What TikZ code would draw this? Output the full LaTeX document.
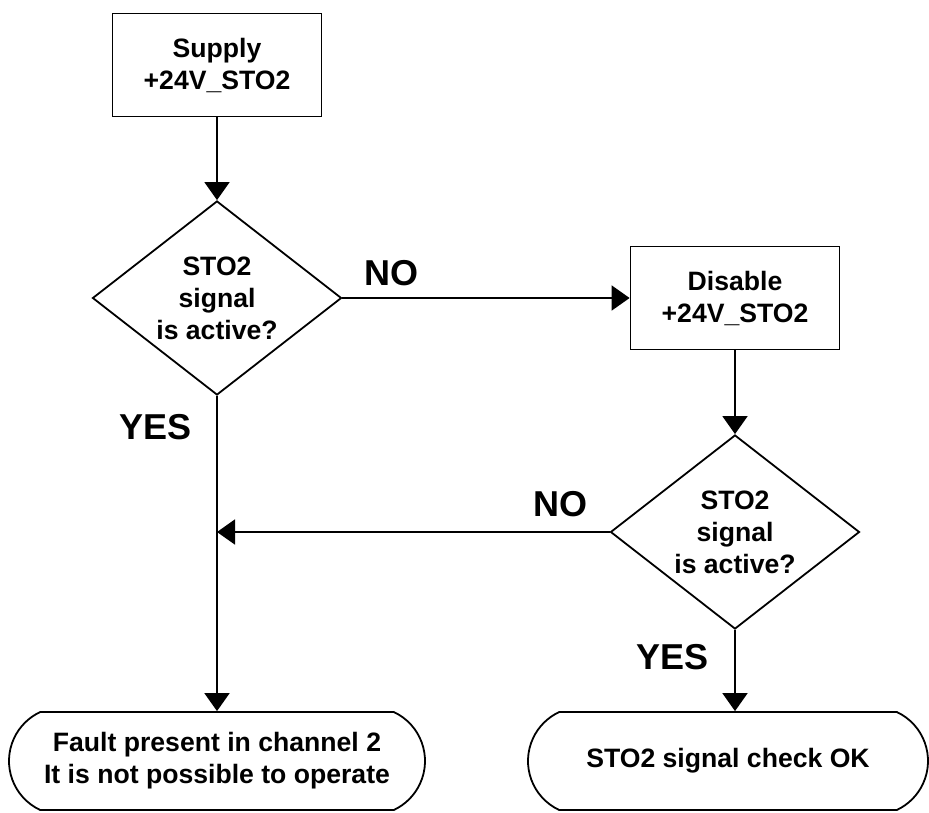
\documentclass[tikz,border=0pt]{standalone}
\usepackage{fontspec}
\setmainfont{Liberation Sans}
\usetikzlibrary{shapes.geometric,shapes.misc,arrows.meta}
\begin{document}
\begin{tikzpicture}[
    x=1pt, y=-1pt,
    >={Triangle[width=25pt,length=18pt]},
    line width=1.8pt,
    font=\fontsize{26.6}{32}\selectfont\bfseries,
    process/.style={
        rectangle,
        draw,
        minimum width=209pt,
        minimum height=103pt,
        inner sep=0pt,
        align=center
    },
    decision/.style={
        diamond,
        draw,
        aspect=1.28,
        minimum width=249pt,
        minimum height=194pt,
        inner sep=0pt,
        align=center
    },
    terminal/.style={
        rounded rectangle,
        rounded rectangle arc length=130,
        draw,
        minimum height=98pt,
        inner sep=0pt,
        align=center
    },
    answer/.style={
        font=\fontsize{36}{40}\selectfont\bfseries,
        inner sep=0pt
    }
]
\useasboundingbox (0,0) rectangle (929,812);

% Steps
\node[process] (supply) at (217,65) {Supply\\+24V\_STO2};
\node[decision] (check1) at (217,298) {STO2\\signal\\is active?};
\node[process] (disable) at (735,298) {Disable\\+24V\_STO2};
\node[decision] (check2) at (735,532) {STO2\\signal\\is active?};

% Ends
\node[terminal, minimum width=416pt] (fault) at (217,761)
    {Fault present in channel 2\\It is not possible to operate};
\node[terminal, minimum width=400pt] (done) at (728,761)
    {STO2 signal check OK};

% Connections
\draw[->] (supply) -- (check1);
\draw[->] (check1) -- node[answer, above=11pt, pos=0.17] {NO} (disable);
\draw[->] (check1) -- node[answer, left=25pt, pos=0.1] {YES} (check1 |- fault.north);
\draw[->] (disable) -- (check2);
\draw[->] (check2.west) -- node[answer, above=14pt, pos=0.125] {NO} (check2.west -| check1);
\draw[->] (check2) -- node[answer, left=26pt, pos=0.33] {YES} (check2 |- done.north);

\end{tikzpicture}
\end{document}
